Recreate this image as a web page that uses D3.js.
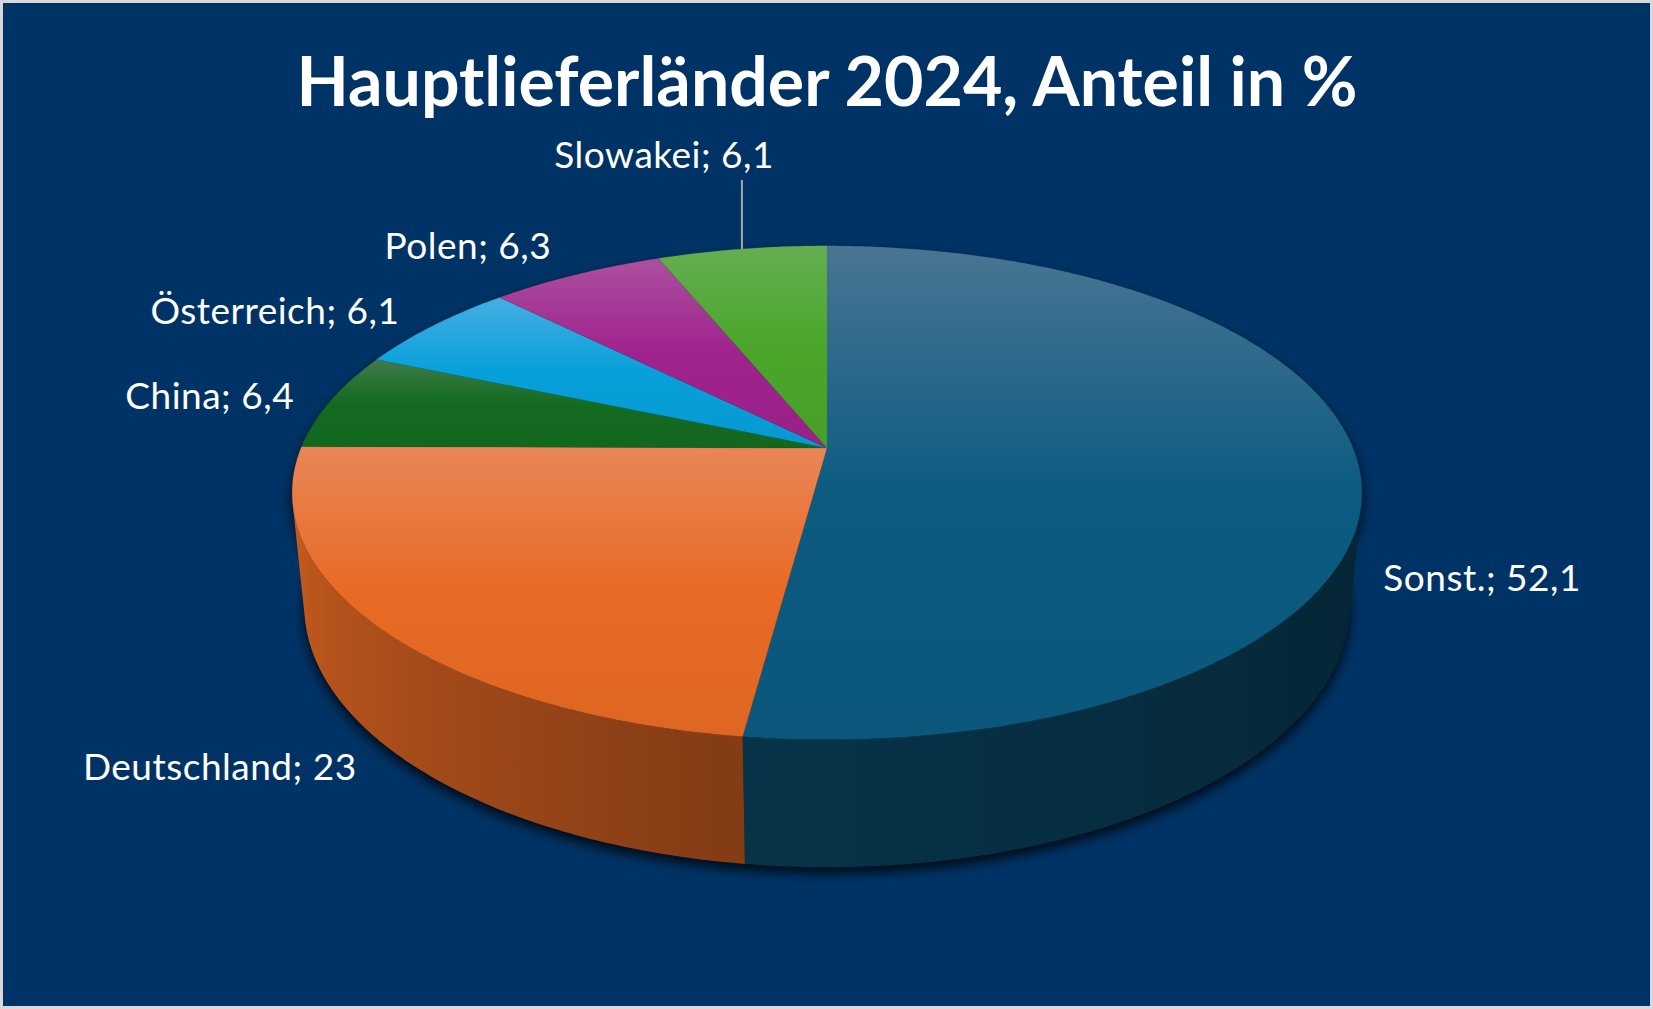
<!DOCTYPE html>
<html>
<head>
<meta charset="utf-8">
<script src="https://cdn.jsdelivr.net/npm/d3@7"></script>
<style>
  html, body { margin: 0; padding: 0; background: #fff; }
  text { font-family: Lato, "Open Sans", sans-serif; }
</style>
</head>
<body>
<div id="chart"></div>
<script>
// data
const countries = ["Sonst.", "Deutschland", "China", "Österreich", "Polen", "Slowakei"];
const shares = [52.1, 23, 6.4, 6.1, 6.3, 6.1];
const baseColors = ["#0c5b81", "#e86a24", "#136b20", "#07a0da", "#a0228e", "#4ba62b"];
const topColors = ["#4a7593", "#e98658", "#3f7b4a", "#45aee2", "#ab519e", "#65ae53"];
const title = "Hauptlieferländer 2024, Anteil in %";

const width = 1653, height = 1009;

const svg = d3.select("#chart").append("svg")
    .attr("width", width)
    .attr("height", height);

// frame + background
svg.append("rect").attr("width", width).attr("height", height).attr("fill", "#d9d9d9");
svg.append("rect")
    .attr("x", 3).attr("y", 3)
    .attr("width", width - 6).attr("height", height - 6)
    .attr("fill", "#003365");

const defs = svg.append("defs");
defs.append("filter").attr("id", "blur")
    .attr("x", "-10%").attr("y", "-10%").attr("width", "120%").attr("height", "130%")
    .append("feGaussianBlur").attr("stdDeviation", 6);

// 3d pie geometry (perspective view, camera tilted down)
const cx = 827, cy = 448, scale = 526;
const tilt = 27 * Math.PI / 180;
const dist = 4.92;   // camera distance in radii
const depth = 0.243; // pie thickness in radii

function project(theta, yy) {
    const X = Math.sin(theta), Z = -Math.cos(theta), Y = yy;
    const yv = Y * Math.cos(tilt) - Z * Math.sin(tilt);
    const zc = Z * Math.cos(tilt) + Y * Math.sin(tilt);
    const f = dist / (dist - zc);
    return [cx + scale * X * f, cy - scale * yv * f];
}
function projectCenter(yy) {
    const yv = yy * Math.cos(tilt);
    const zc = yy * Math.sin(tilt);
    const f = dist / (dist - zc);
    return [cx, cy - scale * yv * f];
}
// wall strip between two angles faces the camera?
function facing(t0, t1) {
    const pts = [project(t0, 0), project(t1, 0), project(t1, -depth), project(t0, -depth)];
    let area = 0;
    for (let j = 0; j < 4; j++) {
        const p = pts[j], q = pts[(j + 1) % 4];
        area += p[0] * q[1] - q[0] * p[1];
    }
    return area < 0;
}

const pie = d3.pie().sort(null).value(d => d.value);
const arcs = pie(countries.map((c, i) => ({ name: c, value: shares[i], i })));

const line = d3.line().curve(d3.curveLinearClosed);

// side wall shading, lit from the left
const sideLight = d3.scaleLinear()
    .domain([90, 190, 270])
    .range([0.37, 0.57, 0.92])
    .clamp(true);

function shade(hex, k) {
    const c = d3.rgb(hex);
    return d3.rgb(c.r * k, c.g * k, c.b * k).toString();
}

const step = Math.PI / 360;

// soft shadow under the pie
const ring = d3.range(0, 721).map(k => k * step);
const shadowGroup = svg.append("g")
    .attr("filter", "url(#blur)")
    .attr("transform", "translate(0,6)")
    .attr("opacity", 0.8);
shadowGroup.append("path").attr("d", line(ring.map(t => project(t, -depth)))).attr("fill", "#000");
shadowGroup.append("path").attr("d", line(ring.map(t => project(t, 0)))).attr("fill", "#000");

const pieGroup = svg.append("g");
const sides = pieGroup.append("g");

arcs.forEach(a => {
    const n = Math.max(2, Math.ceil((a.endAngle - a.startAngle) / step));
    const ts = d3.range(n + 1).map(k => a.startAngle + (a.endAngle - a.startAngle) * k / n);
    // keep only the part of the wall that faces the viewer
    const vis = ts.filter((t, k) => (k < n && facing(t, ts[k + 1])) || (k > 0 && facing(ts[k - 1], t)));
    if (vis.length < 2) return;
    const topPts = vis.map(t => project(t, 0));
    const botPts = vis.map(t => project(t, -depth)).reverse();

    const xs = topPts.map(p => p[0]);
    const x0 = d3.min(xs), x1 = d3.max(xs);
    const grad = defs.append("linearGradient")
        .attr("id", "side" + a.data.i)
        .attr("gradientUnits", "userSpaceOnUse")
        .attr("x1", x0).attr("y1", 0).attr("x2", x1).attr("y2", 0);
    // a stop every ~4 degrees is plenty
    const every = Math.max(1, Math.round(vis.length / Math.max(2, (vis[vis.length - 1] - vis[0]) * 45 / Math.PI)));
    const stops = vis.map((t, k) => ({ t, k }))
        .filter(o => o.k % every === 0 || o.k === vis.length - 1)
        .map(o => ({
            off: (topPts[o.k][0] - x0) / (x1 - x0),
            col: shade(baseColors[a.data.i], sideLight(o.t * 180 / Math.PI))
        }))
        .sort((p, q) => p.off - q.off);
    stops.forEach(s => grad.append("stop").attr("offset", s.off.toFixed(4)).attr("stop-color", s.col));

    sides.append("path")
        .attr("d", line(topPts.concat(botPts)))
        .attr("fill", `url(#side${a.data.i})`);
});

// top faces with vertical gradient
arcs.forEach(a => {
    const g = defs.append("linearGradient")
        .attr("id", "top" + a.data.i)
        .attr("x1", 0).attr("y1", 0).attr("x2", 0).attr("y2", 1);
    g.append("stop").attr("offset", 0).attr("stop-color", topColors[a.data.i]);
    g.append("stop").attr("offset", 0.5).attr("stop-color", baseColors[a.data.i]);
    g.append("stop").attr("offset", 1).attr("stop-color", d3.rgb(baseColors[a.data.i]).darker(0.12));
});

const tops = pieGroup.append("g");
arcs.forEach(a => {
    const n = Math.max(2, Math.ceil((a.endAngle - a.startAngle) / step));
    const pts = [[cx, cy]];
    for (let k = 0; k <= n; k++) {
        pts.push(project(a.startAngle + (a.endAngle - a.startAngle) * k / n, 0));
    }
    tops.append("path")
        .attr("d", line(pts))
        .attr("fill", `url(#top${a.data.i})`)
        .attr("stroke", baseColors[a.data.i])
        .attr("stroke-width", 0.5)
        .attr("stroke-opacity", 0.4);
});

// title
svg.append("text")
    .attr("x", 827)
    .attr("y", 106)
    .attr("text-anchor", "middle")
    .attr("fill", "#fff")
    .style("font-size", "68px")
    .style("font-weight", "bold")
    .text(title);

// data labels
const labels = svg.append("g")
    .attr("fill", "#fff")
    .style("font-size", "37px")
    .style("letter-spacing", "0.5px");

arcs.forEach(a => {
    const mid = (a.startAngle + a.endAngle) / 2;
    const front = Math.cos(mid) < 0;
    const yy = front ? -depth : 0;
    const p = project(mid, yy);
    const c = projectCenter(yy);
    const dx = p[0] - c[0], dy = p[1] - c[1];
    const len = Math.hypot(dx, dy);
    const ux = dx / len, uy = dy / len;
    const txt = `${a.data.name}; ${String(a.data.value).replace(".", ",")}`;

    if (Math.abs(ux) < 0.4) {
        // near the top: label lifted up with a leader line
        svg.append("line")
            .attr("x1", p[0]).attr("y1", p[1])
            .attr("x2", p[0]).attr("y2", p[1] - 69)
            .attr("stroke", "#a6a6a6")
            .attr("stroke-width", 2);
        labels.append("text")
            .attr("x", p[0] + 32)
            .attr("y", p[1] - 81)
            .attr("text-anchor", "end")
            .text(txt);
        return;
    }
    labels.append("text")
        .attr("x", p[0] + ux * Math.abs(ux) * 37)
        .attr("y", p[1] + uy * 50)
        .attr("dy", "0.35em")
        .attr("text-anchor", ux < 0 ? "end" : "start")
        .text(txt);
});
</script>
</body>
</html>
